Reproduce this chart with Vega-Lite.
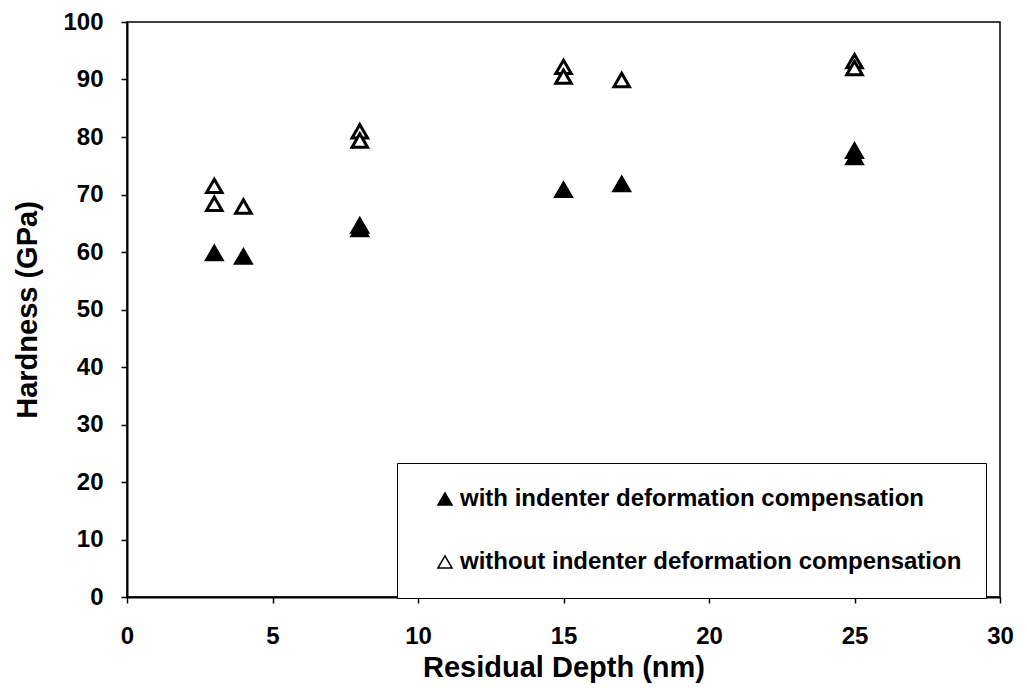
{
  "$schema": "https://vega.github.io/schema/vega-lite/v6.json",
  "width": 873,
  "height": 575,
  "autosize": {"type": "none"},
  "padding": {"left": 127, "top": 22, "right": 27, "bottom": 91},
  "background": "white",
  "config": {
    "font": "Liberation Sans",
    "view": {"stroke": "black", "strokeWidth": 1.5},
    "axis": {
      "domainColor": "black",
      "domainWidth": 2,
      "tickColor": "black",
      "tickWidth": 1.5,
      "tickSize": 6,
      "grid": false,
      "labelFont": "Liberation Sans",
      "labelFontSize": 24,
      "labelFontWeight": "bold",
      "labelColor": "black",
      "titleFont": "Liberation Sans",
      "titleFontWeight": "bold",
      "titleColor": "black"
    }
  },
  "data": {
    "values": [
      {"depth": 3, "hardness": 59.8, "series": "with indenter deformation compensation"},
      {"depth": 4, "hardness": 59.2, "series": "with indenter deformation compensation"},
      {"depth": 8, "hardness": 64.6, "series": "with indenter deformation compensation"},
      {"depth": 8, "hardness": 64.0, "series": "with indenter deformation compensation"},
      {"depth": 15, "hardness": 70.8, "series": "with indenter deformation compensation"},
      {"depth": 17, "hardness": 71.8, "series": "with indenter deformation compensation"},
      {"depth": 25, "hardness": 77.6, "series": "with indenter deformation compensation"},
      {"depth": 25, "hardness": 76.5, "series": "with indenter deformation compensation"},
      {"depth": 3, "hardness": 71.5, "series": "without indenter deformation compensation"},
      {"depth": 3, "hardness": 68.4, "series": "without indenter deformation compensation"},
      {"depth": 4, "hardness": 67.9, "series": "without indenter deformation compensation"},
      {"depth": 8, "hardness": 81.0, "series": "without indenter deformation compensation"},
      {"depth": 8, "hardness": 79.4, "series": "without indenter deformation compensation"},
      {"depth": 15, "hardness": 92.2, "series": "without indenter deformation compensation"},
      {"depth": 15, "hardness": 90.5, "series": "without indenter deformation compensation"},
      {"depth": 17, "hardness": 89.9, "series": "without indenter deformation compensation"},
      {"depth": 25, "hardness": 93.2, "series": "without indenter deformation compensation"},
      {"depth": 25, "hardness": 92.0, "series": "without indenter deformation compensation"}
    ]
  },
  "mark": {"type": "point", "shape": "triangle-up", "size": 240, "stroke": "black", "strokeWidth": 3, "opacity": 1, "filled": true},
  "encoding": {
    "x": {
      "field": "depth",
      "type": "quantitative",
      "title": "Residual Depth (nm)",
      "scale": {"domain": [0, 30], "nice": false, "zero": true},
      "axis": {"values": [0, 5, 10, 15, 20, 25, 30], "labelPadding": 21, "titleFontSize": 29, "titlePadding": 5, "labelFlush": false}
    },
    "y": {
      "field": "hardness",
      "type": "quantitative",
      "title": "Hardness (GPa)",
      "scale": {"domain": [0, 100], "nice": false},
      "axis": {"values": [0, 10, 20, 30, 40, 50, 60, 70, 80, 90, 100], "labelPadding": 18, "titleFontSize": 29, "titlePadding": 20, "labelFlush": false}
    },
    "fill": {
      "field": "series",
      "type": "nominal",
      "scale": {
        "domain": ["with indenter deformation compensation", "without indenter deformation compensation"],
        "range": ["black", "white"]
      },
      "legend": {
        "title": null,
        "orient": "none",
        "legendX": 270,
        "legendY": 441,
        "padding": 24,
        "strokeColor": "black",
        "fillColor": "white",
        "symbolType": "triangle-up",
        "symbolSize": 200,
        "symbolOffset": 12,
        "symbolStrokeColor": "black",
        "symbolStrokeWidth": 1.5,
        "labelFont": "Liberation Sans",
        "labelFontSize": 24,
        "labelFontWeight": "bold",
        "labelColor": "black",
        "labelOffset": 3,
        "labelLimit": 800,
        "rowPadding": 39
      }
    }
  }
}
